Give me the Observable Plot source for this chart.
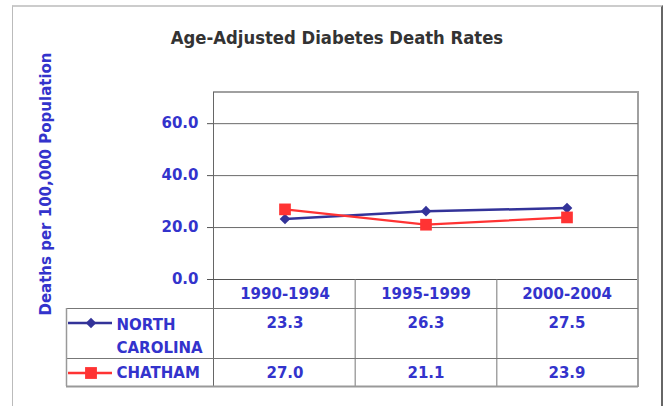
<!DOCTYPE html>
<html><head><meta charset="utf-8">
<script src="https://cdn.jsdelivr.net/npm/d3@7"></script>
<script src="https://cdn.jsdelivr.net/npm/@observablehq/plot@0.6"></script>
<style>
body{margin:0;background:#fff;}
#wrap{position:relative;width:666px;height:406px;overflow:hidden;}
#frame{position:absolute;left:12px;top:5px;width:648px;height:420px;border-left:1px solid #bbb;border-top:2px solid #ccc;border-right:2px solid #666;}
#title{position:absolute;left:4px;width:666px;top:27px;text-align:center;font:bold 18.3px "DejaVu Sans Condensed",sans-serif;color:#333;}
#chart{position:absolute;left:0;top:0;}
</style></head><body>
<div id="wrap"><div id="frame"></div><div id="title"></div><div id="chart"></div></div>
<script>
const chartTitle = "Age-Adjusted Diabetes Death Rates";
const yTitle = "Deaths per 100,000 Population";
const periods = ["1990-1994", "1995-1999", "2000-2004"];
const seriesNames = ["NORTH CAROLINA", "CHATHAM"];
const northCarolina = [23.3, 26.3, 27.5];
const chatham = [27.0, 21.1, 23.9];
const yTicks = [0, 20, 40, 60];
const seriesColors = ["#333399", "#ff3333"];

document.getElementById("title").textContent = chartTitle;

const ncRows = periods.map((p, i) => ({period: p, series: seriesNames[0], value: northCarolina[i]}));
const chRows = periods.map((p, i) => ({period: p, series: seriesNames[1], value: chatham[i]}));

const W = 666, H = 406, ML = 213, MR = 28, MT = 92, MB = 127;
const FW = W - ML - MR;
const blue = "#3333cc";
const font = {fontSize: 15, fontWeight: "bold", fill: blue, lineAnchor: "middle"};

const chart = Plot.plot({
  width: W, height: H,
  marginLeft: ML, marginRight: MR, marginTop: MT, marginBottom: MB,
  style: {fontFamily: "'DejaVu Sans', Verdana, sans-serif", background: "transparent", overflow: "visible"},
  x: {type: "band", domain: periods, padding: 0, axis: null},
  y: {domain: [0, 72], axis: null},
  marks: [
    Plot.ruleY(yTicks.filter(d => d > 0), {stroke: "#6a6a6a", strokeWidth: 1}),
    Plot.ruleY(yTicks, {stroke: "#555", strokeWidth: 1, insetLeft: -6, insetRight: FW}),
    Plot.text(yTicks, {y: d => d, text: d => d.toFixed(1), frameAnchor: "left", dx: -15, textAnchor: "end", ...font}),
    Plot.text([yTitle], {frameAnchor: "left", dx: -167, dy: -2, rotate: -90, textAnchor: "middle", ...font}),
    Plot.text(periods, {x: d => d, frameAnchor: "bottom", dy: 15, ...font}),
    Plot.line(ncRows, {x: "period", y: "value", stroke: seriesColors[0], strokeWidth: 2.5}),
    Plot.dot(ncRows, {x: "period", y: "value", symbol: d3.symbolDiamond2, r: 4.8, fill: seriesColors[0], stroke: "none"}),
    Plot.line(chRows, {x: "period", y: "value", stroke: seriesColors[1], strokeWidth: 2.2}),
    Plot.dot(chRows, {x: "period", y: "value", symbol: d3.symbolSquare, r: 6.6, fill: seriesColors[1], stroke: "none"}),
    Plot.text(ncRows, {x: "period", text: d => d.value.toFixed(1), frameAnchor: "bottom", dy: 44, ...font}),
    Plot.text(chRows, {x: "period", text: d => d.value.toFixed(1), frameAnchor: "bottom", dy: 94, ...font}),
    Plot.text([seriesNames[0]], {text: d => d.replace(" ", "\n"), frameAnchor: "bottom-left", dx: -97, dy: 55, lineHeight: 1.5, textAnchor: "start", ...font}),
    Plot.text([seriesNames[1]], {frameAnchor: "bottom-left", dx: -97, dy: 94, textAnchor: "start", ...font})
  ]
});
document.getElementById("chart").appendChild(chart);

// structural lines (plot frame + data table grid) from the plot's scales
const xs = chart.scale("x"), ys = chart.scale("y");
const x0 = xs.range[0], x1 = xs.range[1], step = (x1 - x0) / periods.length;
const yBase = ys.range[0], yTop = ys.range[1];
const rowB = [yBase + 29, yBase + 79, yBase + 107];
const legendLeft = 66;
const svg = d3.select(chart);
const g = svg.insert("g", ":first-child");
const line = (a, b, c, d, col, w) => g.append("line").attr("x1", a).attr("y1", b).attr("x2", c).attr("y2", d).attr("stroke", col).attr("stroke-width", w);
// plot area border
line(x0, yTop, x1 + 1, yTop, "#a0a0a0", 2);
line(x1, yTop, x1, yBase, "#a0a0a0", 2);
line(x0 + 0.5, yTop, x0 + 0.5, rowB[2], "#666", 1);
line(x0 - 6, yBase + 0.5, x1, yBase + 0.5, "#555", 1);
// table grid
for (let i = 1; i < periods.length; i++) line(x0 + i * step + 0.5, yBase, x0 + i * step + 0.5, rowB[2], "#777", 1);
line(x1, yBase, x1, rowB[2] + 1, "#a0a0a0", 2);
rowB.forEach((y, i) => line(legendLeft, y + 0.5, x1, y + 0.5, i === 2 ? "#999" : "#777", i === 2 ? 2 : 1));
line(legendLeft + 0.5, rowB[0], legendLeft + 0.5, rowB[2], "#999", 1.5);
// legend swatches
const lg = svg.append("g");
const sw = [[yBase + 44, seriesColors[0], d3.symbolDiamond2, 70], [yBase + 94, seriesColors[1], d3.symbolSquare, 140]];
sw.forEach(([y, c, sym, size]) => {
  lg.append("line").attr("x1", 68).attr("x2", 112).attr("y1", y).attr("y2", y).attr("stroke", c).attr("stroke-width", 2.5);
  lg.append("path").attr("transform", `translate(91,${y})`).attr("d", d3.symbol(sym, size)()).attr("fill", c);
});
</script>
</body></html>
